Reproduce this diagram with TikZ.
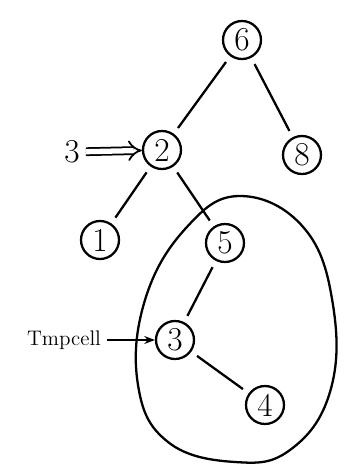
\documentclass[tikz,border=0pt]{standalone}
\usetikzlibrary{arrows.meta}

\tikzset{
    treenode/.style={draw, circle, line width=1.3pt, minimum size=0.76cm, inner sep=0pt,
        font=\fontsize{19}{22}\selectfont},
    treeedge/.style={line width=1.3pt, shorten <=4pt, shorten >=4pt},
}

\begin{document}
\begin{tikzpicture}[x=0.02cm, y=-0.02cm]
    \useasboundingbox (0,0) rectangle (344,471);
    % Loop around the subtree of 5
    \draw[line width=1.3pt] plot[smooth cycle, tension=0.7]
        coordinates {(240,196) (304,228) (333,305) (330,392) (290,450) (235,462)
                     (168,442) (138,385) (145,300) (186,228)};
    % Nodes
    \node[treenode] (n6) at (242,40) {6};
    \node[treenode] (n2) at (162,150) {2};
    \node[treenode] (n8) at (302,155) {8};
    \node[treenode] (n1) at (100,240) {1};
    \node[treenode] (n5) at (225,243) {5};
    \node[treenode] (n3) at (175,340) {3};
    \node[treenode] (n4) at (265,405) {4};
    % Edges
    \draw[treeedge] (n6) -- (n2);
    \draw[treeedge] (n6) -- (n8);
    \draw[treeedge] (n2) -- (n1);
    \draw[treeedge] (n2) -- (n5);
    \draw[treeedge] (n5) -- (n3);
    \draw[treeedge] (n3) -- (n4);
    % Labels
    \node[font=\fontsize{19}{22}\selectfont] (lblthree) at (72,152) {3};
    \draw[line width=1pt, double, double distance=3pt, -{Implies}] (lblthree) -- (n2);
    \node[font=\fontsize{12}{14}\selectfont] (lbltmp) at (64,340) {Tmpcell};
    \draw[line width=1.1pt, -{Stealth[length=6pt]}] (lbltmp) -- (n3);
\end{tikzpicture}
\end{document}
